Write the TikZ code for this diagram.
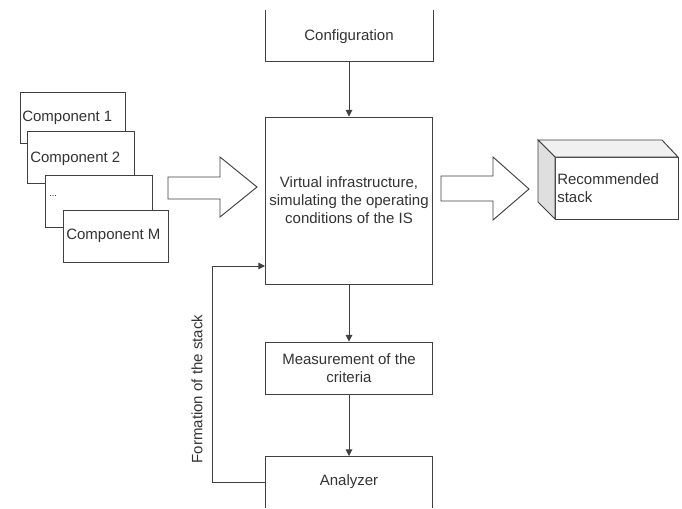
\documentclass[tikz,border=0pt]{standalone}
\usepackage{fontspec}
\setmainfont{Liberation Sans}
\usetikzlibrary{arrows.meta,positioning}
\definecolor{ln}{HTML}{404040}
\definecolor{tx}{HTML}{333333}
\tikzset{
  box/.style={draw=ln, line width=0.7pt, fill=white, inner sep=0pt, text=tx, align=center},
  lbl/.style={inner sep=0pt, text=tx, align=left},
  conn/.style={draw=ln, line width=0.7pt, -{Triangle[length=5pt,width=5pt]}},
  bigarrow/.style={draw=ln, line width=0.7pt, fill=white, line join=miter},
  edge3/.style={draw=ln, line width=0.7pt},
}
\begin{document}
\begin{tikzpicture}[x=0.75pt,y=-0.75pt,font=\fontsize{11.25}{13.5}\selectfont]
\useasboundingbox (0,0) rectangle (682,508);
% Configuration (top clipped)
\node[lbl, align=center] (conf) at (349,37) {Configuration};
\draw[edge3] (265,10) -- (265,61) -- (433,61) -- (433,10);
\coordinate (confb) at (349,61);
% Main box
\node[box, minimum width=167*0.75pt, minimum height=167*0.75pt] (main) at (349,200.5) {Virtual infrastructure,\\simulating the operating\\conditions of the IS};
% Measurement
\node[box, minimum width=167*0.75pt, minimum height=52*0.75pt] (meas) at (349,368) {Measurement of the\\criteria};
% Analyzer (bottom clipped)
\node[lbl, align=center] (anal) at (349,482) {Analyzer};
\draw[edge3] (265,508) -- (265,456) -- (432,456) -- (432,508);
\coordinate (analt) at (349,456);
\coordinate (analw) at (265,482);
% Connectors
\draw[conn] (confb) -- (main.north);
\draw[conn] (main.south) -- (meas.north);
\draw[conn] (meas.south) -- (analt);
\coordinate (fb1) at (212,482);
\coordinate (fb2) at (212,266);
\coordinate (mainin) at (265,266);
\draw[conn] (analw) -- (fb1) -- (fb2) -- (mainin);
\node[lbl, rotate=90, text=tx] (form) at (197,389) {Formation of the stack};
% Components
\draw[box] (20,92) rectangle (125,143);
\node[lbl, anchor=west] (c1) at (22,118) {Component 1};
\draw[box] (27,131) rectangle (134,183);
\node[lbl, anchor=west] (c2) at (30,159) {Component 2};
\draw[box] (45,175) rectangle (152,227);
\node[lbl, anchor=west] (c3) at (49,196) {\fontsize{7}{8}\selectfont ...};
\draw[box] (63,210) rectangle (168,262);
\node[lbl, anchor=west] (cm) at (66,236) {Component M};
% Block arrows
\draw[bigarrow] (168,177) -- (220,177) -- (220,157) -- (257,187) -- (220,217) -- (220,199) -- (168,199) -- cycle;
\draw[bigarrow] (441,176) -- (493,176) -- (493,157) -- (529,189) -- (493,220) -- (493,201) -- (441,201) -- cycle;
% Cube
\draw[edge3, fill=white] (555,157) rectangle (678,219);
\draw[edge3, fill=gray!12] (538,140) -- (662,140) -- (678,157) -- (555,157) -- cycle;
\draw[edge3, fill=gray!25] (538,140) -- (555,157) -- (555,219) -- (538,202) -- cycle;
\node[lbl, anchor=west] (rec) at (557,188.5) {Recommended\\stack};
\end{tikzpicture}
\end{document}
